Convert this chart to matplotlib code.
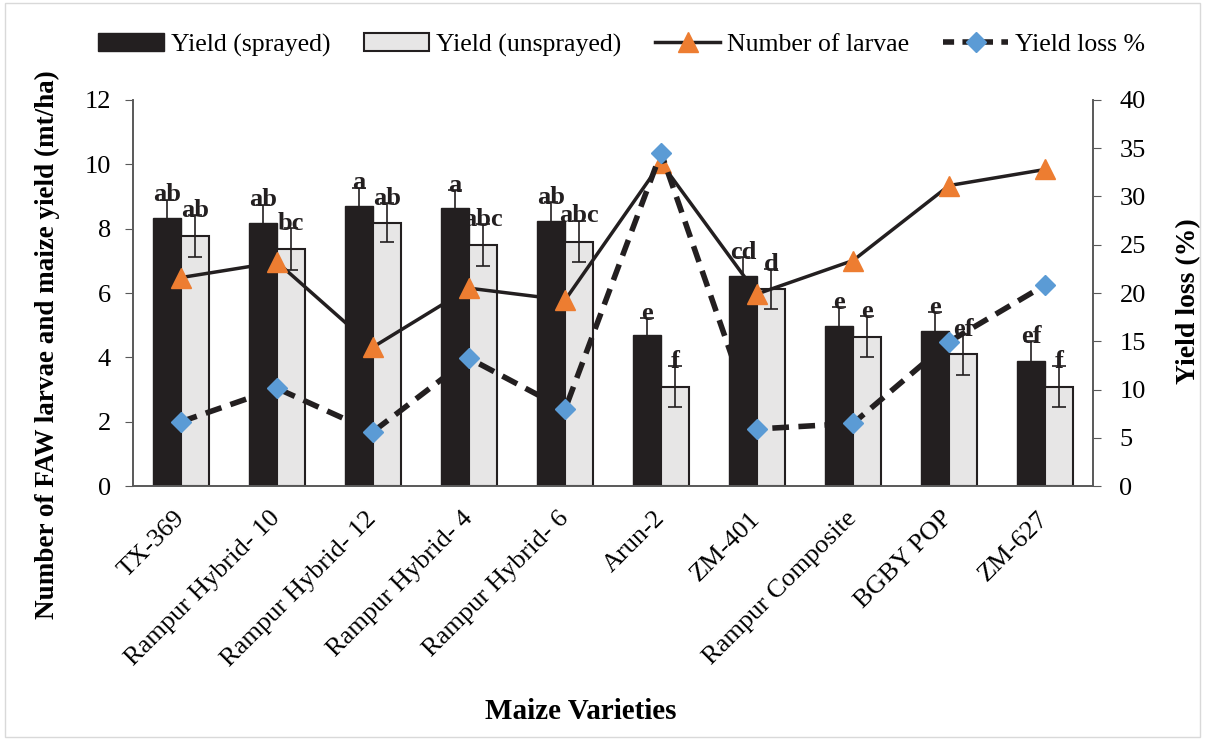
import numpy as np
import matplotlib.pyplot as plt
from matplotlib.lines import Line2D
from matplotlib.patches import Patch, Rectangle

plt.rcParams['font.family'] = ['Liberation Serif', 'DejaVu Serif']

# Datos
varieties = ['TX-369', 'Rampur Hybrid- 10', 'Rampur Hybrid- 12', 'Rampur Hybrid- 4',
             'Rampur Hybrid- 6', 'Arun-2', 'ZM-401', 'Rampur Composite', 'BGBY POP', 'ZM-627']
yield_sprayed = [8.33, 8.18, 8.70, 8.63, 8.25, 4.70, 6.53, 4.97, 4.81, 3.90]
err_sprayed = [0.57, 0.57, 0.57, 0.57, 0.57, 0.51, 0.58, 0.6, 0.6, 0.6]
yield_unsprayed = [7.77, 7.36, 8.18, 7.49, 7.60, 3.09, 6.12, 4.64, 4.09, 3.09]
err_unsprayed = [0.64, 0.65, 0.61, 0.64, 0.65, 0.64, 0.63, 0.64, 0.64, 0.64]
letters_sprayed = ['ab', 'ab', 'a', 'a', 'ab', 'e', 'cd', 'e', 'e', 'ef']
letters_unsprayed = ['ab', 'bc', 'ab', 'abc', 'abc', 'f', 'd', 'e', 'ef', 'f']
larvae = [6.48, 6.96, 4.32, 6.15, 5.78, 10.05, 5.97, 7.01, 9.34, 9.84]
yield_loss = [6.66, 10.12, 5.63, 13.23, 7.95, 34.54, 5.91, 6.49, 14.95, 20.83]

dark = '#231f20'
light = '#e7e6e6'
orange = '#ed7d31'
blue = '#5b9bd5'

x = np.arange(len(varieties))
w = 0.29

fig = plt.figure(figsize=(12.05, 7.4), dpi=100)
ax = fig.add_axes([0.1104, 0.3432, 0.7967, 0.5217])
ax2 = ax.twinx()

ax.bar(x - w / 2, yield_sprayed, w, color=dark, edgecolor=dark, zorder=2)
ax.errorbar(x - w / 2, yield_sprayed, yerr=err_sprayed, fmt='none', ecolor=dark,
            elinewidth=1.2, capsize=5, capthick=1.2, zorder=3)
ax.bar(x + w / 2, yield_unsprayed, w, color=light, edgecolor=dark, linewidth=1.5, zorder=2)
ax.errorbar(x + w / 2, yield_unsprayed, yerr=err_unsprayed, fmt='none', ecolor=dark,
            elinewidth=1.2, capsize=5, capthick=1.2, zorder=3)

for i in range(len(x)):
    ax.text(x[i] - w / 2, yield_sprayed[i] + err_sprayed[i] + 0.15, letters_sprayed[i],
            ha='center', va='center', fontsize=19, fontweight='bold', color=dark, zorder=4)
    ax.text(x[i] + w / 2, yield_unsprayed[i] + err_unsprayed[i] + 0.15, letters_unsprayed[i],
            ha='center', va='center', fontsize=19, fontweight='bold', color=dark, zorder=4)

ax.plot(x, larvae, color=dark, linewidth=2.5, marker='^', markersize=14,
        markerfacecolor=orange, markeredgecolor=orange, zorder=5)
ax2.plot(x, yield_loss, color=dark, linewidth=4, linestyle=(0, (3, 1.7)), marker='D',
         markersize=10.5, markerfacecolor=blue, markeredgecolor=blue, zorder=5)

ax.set_xlim(-0.5, len(x) - 0.5)
ax.set_ylim(0, 12)
ax2.set_ylim(0, 40)
ax.set_yticks(np.arange(0, 13, 2))
ax2.set_yticks(np.arange(0, 41, 5))
ax.set_xticks(x)
ax.set_xticklabels(varieties, rotation=45, ha='right', va='center', rotation_mode='anchor',
                   fontsize=19)
ax.tick_params(axis='x', length=0, pad=21)
ax.tick_params(axis='y', labelsize=19, length=6, pad=10, color='#595959')
ax2.tick_params(axis='y', labelsize=19, length=6, pad=13, color='#595959')

for a in (ax, ax2):
    a.spines['top'].set_visible(False)
    for s in ('left', 'right', 'bottom'):
        a.spines[s].set_color('#595959')
        a.spines[s].set_linewidth(1.2)

ax.set_ylabel('Number of FAW larvae and maize yield (mt/ha)', fontsize=19.5, fontweight='bold')
ax.yaxis.set_label_coords(-0.076, 0.365)
ax2.set_ylabel('Yield loss (%)', fontsize=20, fontweight='bold')
ax2.yaxis.set_label_coords(1.087, 0.48)
fig.text(0.482, 0.038, 'Maize Varieties', ha='center', va='center', fontsize=21, fontweight='bold')

handles = [
    Patch(facecolor=dark, edgecolor=dark),
    Patch(facecolor=light, edgecolor=dark, linewidth=1.5),
    Line2D([], [], color=dark, linewidth=2.5, marker='^', markersize=14,
           markerfacecolor=orange, markeredgecolor=orange),
    Line2D([], [], color=dark, linewidth=4, linestyle=(0, (2, 1.5)), marker='D', markersize=10.5,
           markerfacecolor=blue, markeredgecolor=blue),
]
labels = ['Yield (sprayed)', 'Yield (unsprayed)', 'Number of larvae', 'Yield loss %']
fig.legend(handles, labels, loc='center', bbox_to_anchor=(0.516, 0.939), ncol=4, frameon=False,
           fontsize=18.5, handlelength=2.55, handletextpad=0.27, columnspacing=1.3)

fig.patches.append(Rectangle((0.004, 0.004), 0.992, 0.992, transform=fig.transFigure,
                             fill=False, edgecolor='#d9d9d9', linewidth=1))

fig.savefig('out.png', dpi=100)
